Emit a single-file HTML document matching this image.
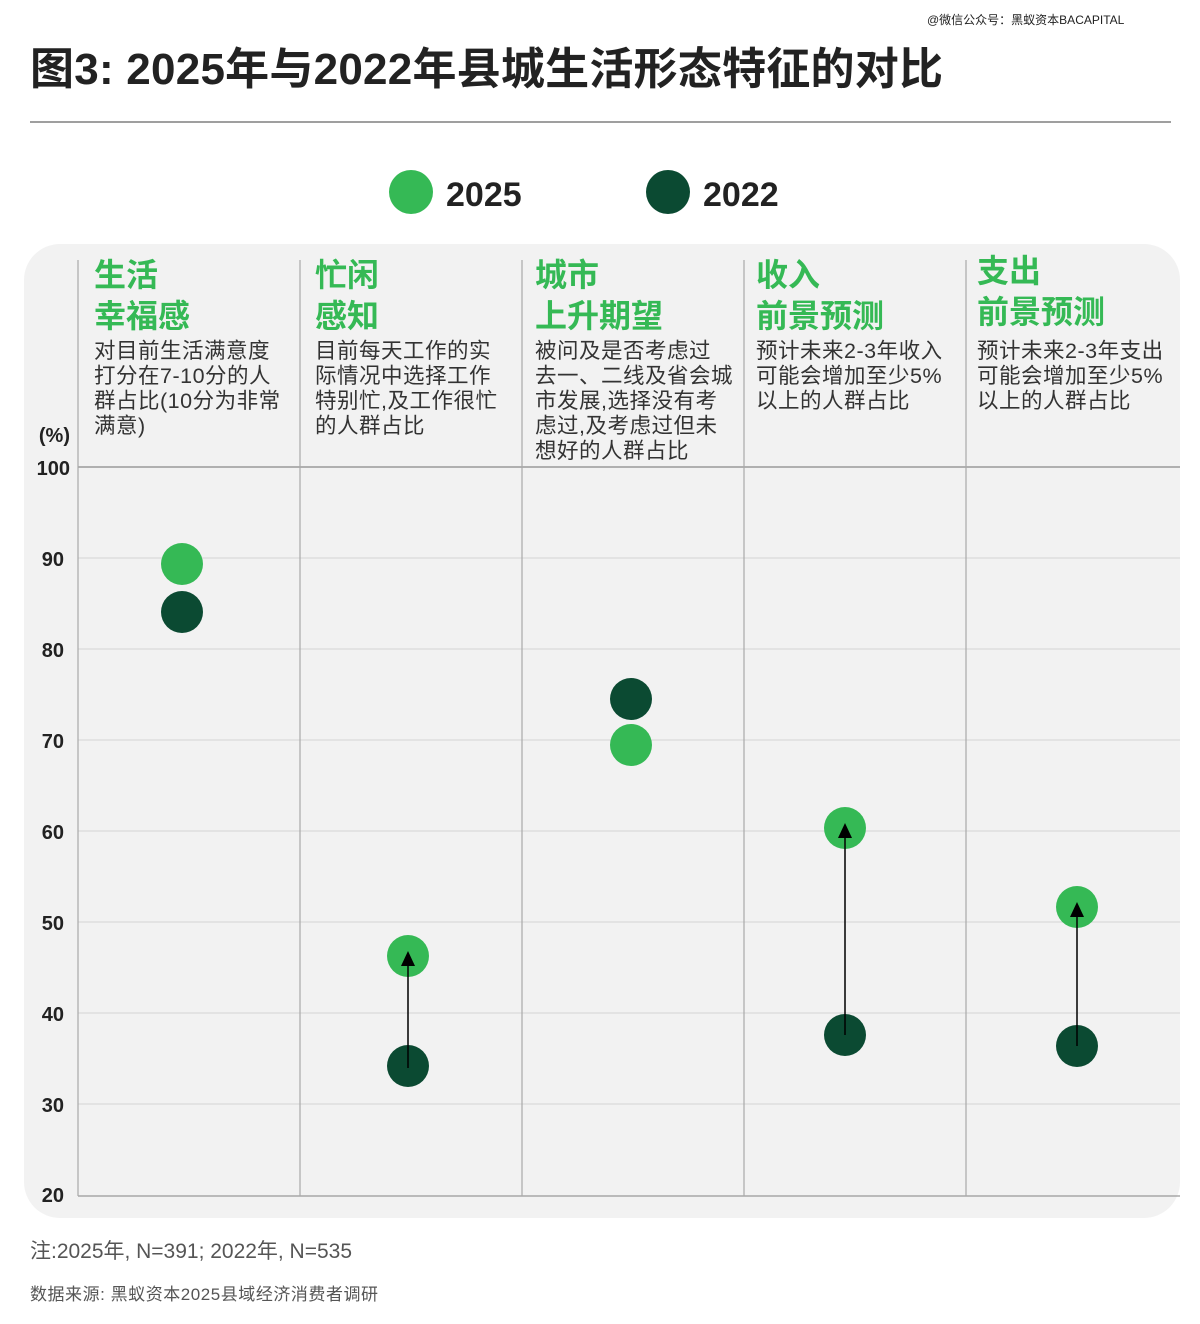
<!DOCTYPE html>
<html><head><meta charset="utf-8"><style>
body{margin:0;background:#fff;width:1200px;height:1319px;overflow:hidden;font-family:"Liberation Sans","Noto Sans CJK SC",sans-serif;}
</style></head><body>
<svg width="1200" height="1319" xmlns="http://www.w3.org/2000/svg" style="font-family:'Liberation Sans','Noto Sans CJK SC',sans-serif">
<text x="927" y="24" font-size="12" fill="#222">@微信公众号：黑蚁资本BACAPITAL</text>
<text x="30" y="84" font-size="44" font-weight="bold" fill="#222" textLength="913">图3: 2025年与2022年县城生活形态特征的对比</text>
<line x1="30" y1="122" x2="1171" y2="122" stroke="#666" stroke-width="1.2"/>
<circle cx="411" cy="192" r="22" fill="#35b955"/>
<text x="446" y="206" font-size="34" font-weight="bold" fill="#222">2025</text>
<circle cx="668" cy="192" r="22" fill="#0b4a32"/>
<text x="703" y="206" font-size="34" font-weight="bold" fill="#222">2022</text>
<rect x="24" y="244" width="1156" height="974" rx="36" fill="#f2f2f2"/>
<g stroke="#d4d4d4" stroke-width="1">
<line x1="78" y1="558" x2="1180" y2="558"/><line x1="78" y1="649" x2="1180" y2="649"/>
<line x1="78" y1="740" x2="1180" y2="740"/><line x1="78" y1="831" x2="1180" y2="831"/>
<line x1="78" y1="922" x2="1180" y2="922"/><line x1="78" y1="1013" x2="1180" y2="1013"/>
<line x1="78" y1="1104" x2="1180" y2="1104"/>
</g>
<line x1="78" y1="467" x2="1180" y2="467" stroke="#999" stroke-width="1.5"/>
<line x1="78" y1="1196" x2="1180" y2="1196" stroke="#999" stroke-width="1.2"/>
<g stroke="#aaa" stroke-width="1.2">
<line x1="78" y1="260" x2="78" y2="1196"/><line x1="300" y1="260" x2="300" y2="1196"/>
<line x1="522" y1="260" x2="522" y2="1196"/><line x1="744" y1="260" x2="744" y2="1196"/>
<line x1="966" y1="260" x2="966" y2="1196"/>
</g>
<g font-size="20" font-weight="bold" fill="#222" text-anchor="end">
<text x="70" y="442">(%)</text>
<text x="70" y="475">100</text><text x="64" y="566">90</text><text x="64" y="657">80</text>
<text x="64" y="748">70</text><text x="64" y="839">60</text><text x="64" y="930">50</text>
<text x="64" y="1021">40</text><text x="64" y="1112">30</text><text x="64" y="1202">20</text>
</g>
<g font-size="32" font-weight="bold" fill="#35b955">
<text x="94" y="286">生活</text><text x="94" y="327">幸福感</text>
<text x="315" y="286">忙闲</text><text x="315" y="327">感知</text>
<text x="535" y="286">城市</text><text x="535" y="327">上升期望</text>
<text x="756" y="286">收入</text><text x="756" y="327">前景预测</text>
<text x="977" y="282">支出</text><text x="977" y="323">前景预测</text>
</g>
<g font-size="21.5" fill="#333" letter-spacing="0.5">
<text x="94" y="358">对目前生活满意度</text><text x="94" y="383">打分在7-10分的人</text><text x="94" y="408">群占比(10分为非常</text><text x="94" y="433">满意)</text>
<text x="315" y="358">目前每天工作的实</text><text x="315" y="383">际情况中选择工作</text><text x="315" y="408">特别忙,及工作很忙</text><text x="315" y="433">的人群占比</text>
<text x="535" y="358">被问及是否考虑过</text><text x="535" y="383">去一、二线及省会城</text><text x="535" y="408">市发展,选择没有考</text><text x="535" y="433">虑过,及考虑过但未</text><text x="535" y="458">想好的人群占比</text>
<text x="756" y="358">预计未来2-3年收入</text><text x="756" y="383">可能会增加至少5%</text><text x="756" y="408">以上的人群占比</text>
<text x="977" y="358">预计未来2-3年支出</text><text x="977" y="383">可能会增加至少5%</text><text x="977" y="408">以上的人群占比</text>
</g>
<circle cx="182" cy="612" r="21" fill="#0b4a32"/><circle cx="182" cy="564" r="21" fill="#35b955"/>
<circle cx="631" cy="699" r="21" fill="#0b4a32"/><circle cx="631" cy="745" r="21" fill="#35b955"/>
<circle cx="408" cy="956" r="21" fill="#35b955"/><circle cx="408" cy="1066" r="21" fill="#0b4a32"/>
<circle cx="845" cy="828" r="21" fill="#35b955"/><circle cx="845" cy="1035" r="21" fill="#0b4a32"/>
<circle cx="1077" cy="907" r="21" fill="#35b955"/><circle cx="1077" cy="1046" r="21" fill="#0b4a32"/>
<g stroke="#000" stroke-width="1.5">
<line x1="408" y1="1068" x2="408" y2="962"/><line x1="845" y1="1035" x2="845" y2="834"/><line x1="1077" y1="1046" x2="1077" y2="913"/>
</g>
<g fill="#000">
<polygon points="408,951 401,966 415,966"/><polygon points="845,823 838,838 852,838"/><polygon points="1077,902 1070,917 1084,917"/>
</g>
<text x="30" y="1258" font-size="21" fill="#555" textLength="322">注:2025年, N=391; 2022年, N=535</text>
<text x="30" y="1300" font-size="17" fill="#555" textLength="348">数据来源: 黑蚁资本2025县域经济消费者调研</text>
</svg>
</body></html>
